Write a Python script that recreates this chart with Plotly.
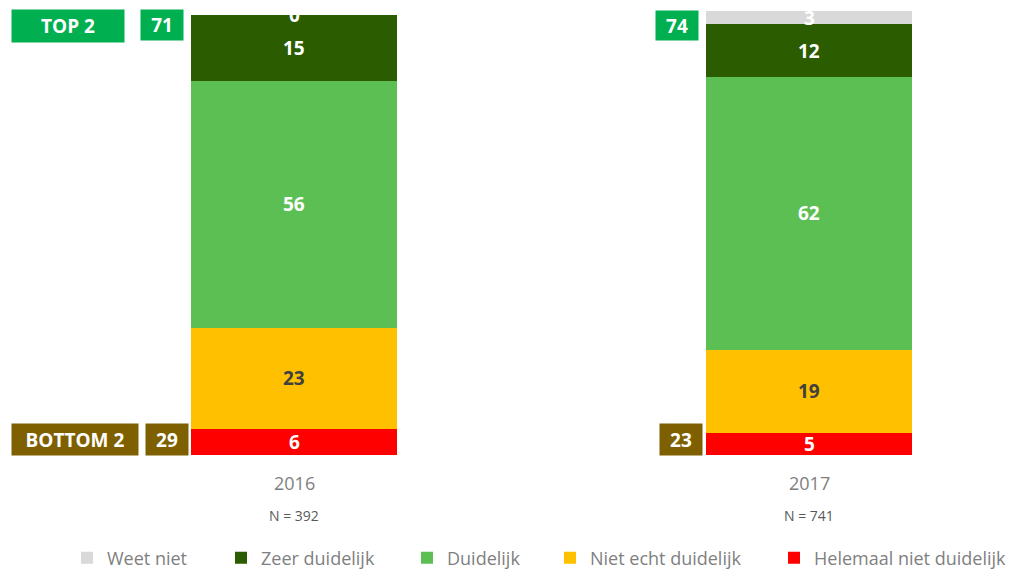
import plotly.graph_objects as go

years = ["2016", "2017"]
n_labels = ["N = 392", "N = 741"]
series_names = ["Helemaal niet duidelijk", "Niet echt duidelijk", "Duidelijk", "Zeer duidelijk", "Weet niet"]
helemaal = [6, 5]
niet_echt = [23, 19]
duidelijk = [56, 62]
zeer = [15, 12]
weet_niet = [0, 3]
top2 = [71, 74]
bottom2 = [29, 23]

series = [helemaal, niet_echt, duidelijk, zeer, weet_niet]
colors = ["#FF0000", "#FFC000", "#5CBF53", "#2B5C00", "#D9D9D9"]
text_colors = ["white", "#404040", "white", "white", "white"]

FONT = "Open Sans"
OFF = 8  # browser body margin
W, H = 1020 - OFF, 571 - OFF
TOP, BOT = 11 - OFF, 455 - OFF


def py(p):  # screen pixel y -> paper
    return (BOT - (p - OFF)) / (BOT - TOP)


def px(p):  # screen pixel x -> paper
    return (p - OFF) / W


xs = [0, 1]
c0, c1 = 294 - OFF, 809 - OFF
sp = c1 - c0

fig = go.Figure()
legend_text_starts = [814, 590, 447, 261, 107]
legend_names = ["legend", "legend2", "legend3", "legend4", "legend5"]
for name, vals, col, lg in zip(series_names, series, colors, legend_names):
    fig.add_trace(go.Bar(x=xs, y=vals, name=name, marker=dict(color=col, line=dict(width=0)),
                         width=0.4, hoverinfo="skip", legend=lg))

annotations = []
for i, x in enumerate(xs):
    base = 0
    for vals, tc in zip(series, text_colors):
        v = vals[i]
        annotations.append(dict(x=x, y=base + v / 2, xref="x", yref="y", text=f"<b>{v}</b>",
                                showarrow=False, font=dict(family=FONT, size=19, color=tc)))
        base += v
    annotations.append(dict(x=x, y=py(483), xref="x", yref="paper", yanchor="middle", text=years[i],
                            showarrow=False, font=dict(family=FONT, size=18, color="#7F7F7F")))
    annotations.append(dict(x=x, y=py(515), xref="x", yref="paper", yanchor="middle", text=n_labels[i],
                            showarrow=False, font=dict(family=FONT, size=14, color="#595959")))


def box(xc, yc, w, h, text, bg):
    return dict(x=px(xc), y=py(yc), xref="paper", yref="paper", xanchor="center", yanchor="middle",
                text=f"<b>{text}</b>", showarrow=False, bgcolor=bg, width=w, height=h, borderpad=0,
                align="center", valign="middle", font=dict(family=FONT, size=19, color="white"))


annotations.append(box(68, 26, 112, 32, "TOP 2", "#00B050"))
annotations.append(box(162, 25, 42, 30, top2[0], "#00B050"))
annotations.append(box(677, 25.5, 42, 29, top2[1], "#00B050"))
annotations.append(box(75, 439.5, 126, 31, "BOTTOM 2", "#7F6000"))
annotations.append(box(167, 439.5, 42, 31, bottom2[0], "#7F6000"))
annotations.append(box(681, 439.5, 42, 31, bottom2[1], "#7F6000"))

layout_legends = {}
for lg, ts in zip(legend_names, legend_text_starts):
    layout_legends[lg] = dict(orientation="h", x=px(ts - 40), xanchor="left", y=py(558), yanchor="middle",
                              font=dict(family=FONT, size=18, color="#7F7F7F"), itemclick=False,
                              itemdoubleclick=False, bgcolor="rgba(0,0,0,0)")

fig.update_layout(
    width=W, height=H,
    margin=dict(l=0, r=0, t=TOP, b=H - BOT, autoexpand=False),
    barmode="stack",
    plot_bgcolor="white", paper_bgcolor="white",
    xaxis=dict(range=[-c0 / sp, (W - c0) / sp], visible=False),
    yaxis=dict(range=[0, 101], visible=False),
    showlegend=True,
    annotations=annotations,
    **layout_legends,
)
fig.write_html("out.html")
